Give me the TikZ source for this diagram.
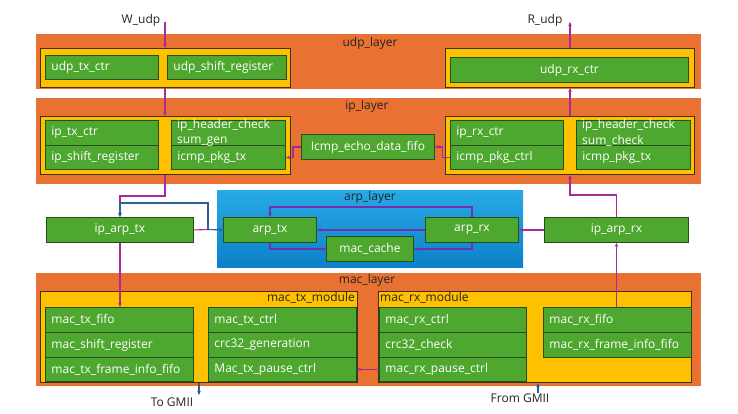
\documentclass[tikz,border=0pt]{standalone}
\usepackage{fontspec}
\setmainfont{Open Sans}
\usetikzlibrary{arrows.meta}
\definecolor{lorange}{RGB}{233,113,50}
\definecolor{lyellow}{RGB}{255,192,0}
\definecolor{ydark}{RGB}{60,50,20}
\definecolor{lgreen}{RGB}{78,167,46}
\definecolor{gdark}{RGB}{38,80,25}
\definecolor{arptop}{RGB}{40,170,230}
\definecolor{arpbot}{RGB}{12,128,200}
\definecolor{conP}{RGB}{165,45,145}
\definecolor{arpP}{RGB}{115,48,170}
\definecolor{steel}{RGB}{45,95,145}
\definecolor{lbltext}{RGB}{35,35,35}
\newcommand{\rbox}[7]{%
  \pgfmathsetmacro\rbw{#5-#3}\pgfmathsetmacro\rbh{#6-#4}\pgfmathsetmacro\rbt{max(#5-#3-12,1)}%
  \node[#2, anchor=north west, minimum width=\rbw pt, minimum height=\rbh pt, text width=\rbt pt] (#1) at (#3,#4) {#7};}
\begin{document}
\begin{tikzpicture}[x=1pt,y=-1pt, font=\fontsize{12}{14}\selectfont,
  layer/.style={fill=lorange, draw=none, inner sep=0pt},
  arpbg/.style={top color=arptop, bottom color=arpbot, draw=none, inner sep=0pt},
  ybox/.style={fill=lyellow, draw=ydark, line width=1pt, inner sep=0pt},
  gbox/.style={fill=lgreen, draw=gdark, line width=0.9pt, text=white, inner xsep=6pt, inner ysep=0pt, align=left},
  gc/.style={gbox, align=center},
  lbl/.style={text=lbltext, inner sep=1pt},
  gtxt/.style={text=white, inner sep=0pt, align=left, font=\fontsize{12}{15.5}\selectfont},
  pa/.style={draw=conP, line width=1.1pt, -{Stealth[length=4pt,width=3.5pt]}},
  pl/.style={draw=conP, line width=1.1pt},
  aa/.style={draw=arpP, line width=1.1pt, -{Stealth[length=4pt,width=3.5pt]}},
  ba/.style={draw=steel, line width=1.1pt, -{Stealth[length=4pt,width=3.5pt]}},
  bl/.style={draw=steel, line width=1.1pt}]
\useasboundingbox[fill=white] (0,0) rectangle (738,413);
% layers
\rbox{udpL}{layer}{36}{34}{701}{89}{}
\rbox{ipL}{layer}{36}{98}{701}{184}{}
\rbox{macL}{layer}{36}{273}{701}{386}{}
\rbox{arpL}{arpbg}{217}{190}{523}{267}{}
\node[lbl] (udpLt) at (370,43) {udp\_layer};
\node[lbl] (ipLt) at (367,106) {ip\_layer};
\node[lbl] (arpLt) at (370,197) {arp\_layer};
\node[lbl] (macLt) at (367,280) {mac\_layer};
% yellow containers
\rbox{uly}{ybox}{40}{48}{290}{87}{}
\rbox{ury}{ybox}{445}{48}{694}{87}{}
\rbox{ily}{ybox}{40}{116}{290}{174}{}
\rbox{iry}{ybox}{445}{116}{694}{174}{}
\rbox{mty}{ybox}{40}{291}{357}{382}{}
\rbox{mry}{ybox}{378}{291}{691}{382}{}
\node[lbl, anchor=east] (mtxlab) at (356,298) {mac\_tx\_module};
\node[lbl, anchor=west] (mrxlab) at (379,298) {mac\_rx\_module};
% udp
\rbox{udptx}{gbox}{45}{55}{158}{79}{udp\_tx\_ctr}
\rbox{udpsr}{gbox}{167}{55}{286}{79}{udp\_shift\_register}
\rbox{udprx}{gc}{450}{57}{688}{82}{udp\_rx\_ctr}
% ip
\rbox{iptx}{gbox}{45}{120}{158}{145}{ip\_tx\_ctr}
\rbox{ipsr}{gbox}{45}{145}{158}{169}{ip\_shift\_register}
\rbox{iphg}{gbox}{171}{120}{285}{145}{}
\rbox{ipicl}{gbox}{171}{145}{285}{169}{icmp\_pkg\_tx}
\rbox{icmp}{gc}{301}{134}{434}{159}{Icmp\_echo\_data\_fifo}
\rbox{iprx}{gbox}{450}{120}{563}{145}{ip\_rx\_ctr}
\rbox{ipctrl}{gbox}{450}{145}{563}{169}{icmp\_pkg\_ctrl}
\rbox{iphc}{gbox}{576}{120}{690}{145}{}
\rbox{ipicr}{gbox}{576}{145}{690}{169}{icmp\_pkg\_tx}
\node[gtxt, anchor=west] (iphgt) at ([xshift=6pt,yshift=0pt]iphg.west) {ip\_header\_check\\sum\_gen};
\node[gtxt, anchor=west] (iphct) at ([xshift=6pt,yshift=0pt]iphc.west) {ip\_header\_check\\sum\_check};
% arp row
\rbox{ipat}{gc}{46}{217}{193}{242}{ip\_arp\_tx}
\rbox{arptx}{gc}{223}{217}{316}{242}{arp\_tx}
\rbox{arprx}{gc}{425}{217}{518}{242}{arp\_rx}
\rbox{mcache}{gc}{326}{236}{413}{261}{mac\_cache}
\rbox{ipar}{gc}{544}{217}{688}{242}{ip\_arp\_rx}
% mac
\rbox{mtxfifo}{gbox}{45}{307}{193}{332}{mac\_tx\_fifo}
\rbox{mshift}{gbox}{45}{332}{193}{357}{mac\_shift\_register}
\rbox{mtxfi}{gbox}{45}{357}{193}{381}{mac\_tx\_frame\_info\_fifo}
\rbox{mtxctrl}{gbox}{208}{307}{356}{332}{mac\_tx\_ctrl}
\rbox{crcgen}{gbox}{208}{332}{356}{357}{crc32\_generation}
\rbox{mtxpause}{gbox}{208}{357}{356}{381}{Mac\_tx\_pause\_ctrl}
\rbox{mrxctrl}{gbox}{379}{307}{526}{332}{mac\_rx\_ctrl}
\rbox{crcchk}{gbox}{379}{332}{526}{357}{crc32\_check}
\rbox{mrxpause}{gbox}{379}{357}{526}{381}{mac\_rx\_pause\_ctrl}
\rbox{mrxfifo}{gbox}{543}{307}{691}{332}{mac\_rx\_fifo}
\rbox{mrxfi}{gbox}{543}{332}{691}{357}{mac\_rx\_frame\_info\_fifo}
% outer labels
\node[lbl] (wudp) at (141,20) {W\_udp};
\node[lbl] (rudp) at (545,20) {R\_udp};
\node[lbl] (togmii) at (172,402) {To GMII};
\node[lbl] (fromgmii) at (520,398) {From GMII};
\coordinate (wtop) at (165,22);
\coordinate (rtop) at (570,22);
\coordinate (tog) at (199,395);
\coordinate (fromg) at (538,393);
\coordinate (bj) at (208,229.5);
\coordinate (bt) at (208,203);
% connectors
\draw[pa] (wtop) -- (uly.north -| wtop);
\draw[pa] (uly.south -| wtop) -- (ily.north -| wtop);
\draw[pa] (ily.south -| wtop) -- ++(0,21) -| (ipat.north);
\draw[pa] (ury.north -| rtop) -- (rtop);
\draw[pa] (iry.north -| rtop) -- (ury.south -| rtop);
\draw[pa] (ipar.north) -- ++(0,-22) -| (iry.south -| rtop);
\draw[pa] (icmp.west) -- ++(-8,0) |- (ipicl.east);
\draw[pa] (ipctrl.west) -| ([xshift=8pt]icmp.east) -- (icmp.east);
\draw[pl] (ipat.east) -- (bj);
\draw[ba] (bj) -- (arptx.west);
\draw[ba] (bj) -- (bt) -| (ipat.north);
\draw[aa] (arprx.north) -- ++(0,-10) -| (arptx.north);
\draw[aa] (arprx.west) -- (arptx.east);
\draw[aa] (arptx.south) |- (mcache.west);
\draw[aa] (arprx.south) |- (mcache.east);
\draw[pa] (ipar.west) -- (arprx.east);
\draw[pa] (mrxfifo.north -| ipar.south) -- (ipar.south);
\draw[pa] (ipat.south) -- (ipat.south |- mtxfifo.north);
\draw[pa] (mrxpause.west) -- (mtxpause.east);
\draw[ba] (mty.south -| tog) -- (tog);
\draw[ba] (fromg) -- (mry.south -| fromg);
\end{tikzpicture}
\end{document}
